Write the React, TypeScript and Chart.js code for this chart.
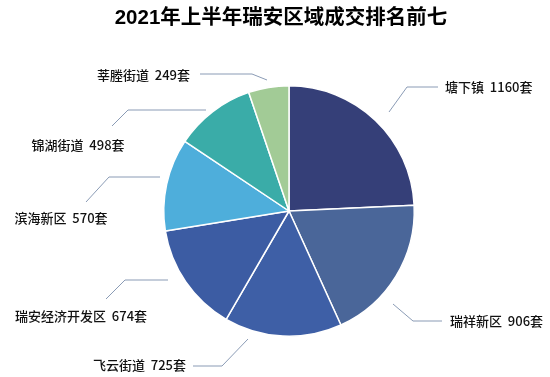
import React, { useEffect, useRef } from "react";
import { Chart, registerables } from "chart.js";

Chart.register(...registerables);

const TITLE = "2021年上半年瑞安区域成交排名前七";
const CATEGORIES = ["塘下镇", "瑞祥新区", "飞云街道", "瑞安经济开发区", "滨海新区", "锦湖街道", "莘塍街道"];
const VALUES = [1160, 906, 725, 674, 570, 498, 249];
const UNIT = "套";
const COLORS = ["#353f78", "#4a6699", "#3e5fa6", "#3c5ca3", "#4eaedb", "#3aaca8", "#a2cb96"];

// Leader-line layout, offsets relative to the pie centre (px)
const LEADERS = [
  { pts: [[100, -99], [118, -124], [149, -124]], text: [156, -124], align: "left" },
  { pts: [[104, 93], [124, 110], [153, 110]], text: [161, 110], align: "left" },
  { pts: [[-41, 128], [-67, 155], [-96, 155]], text: [-103, 154], align: "right" },
  { pts: [[-121, 69], [-164, 69], [-183, 88]], text: [-208, 105], align: "center" },
  { pts: [[-129, -34], [-180, -34], [-203, -9]], text: [-228, 7], align: "center" },
  { pts: [[-83, -101], [-161, -101], [-177, -85]], text: [-211, -66], align: "center" },
  { pts: [[-22, -131], [-37, -137], [-89, -137]], text: [-99, -136], align: "right" },
];

const FONT = '"Noto Sans CJK SC", "Noto Sans", sans-serif';
const TITLE_FONT = '"Liberation Sans", "Noto Sans CJK SC", sans-serif';

const labelPlugin = {
  id: "leaderLabels",
  afterDraw(chart: any) {
    const ctx = chart.ctx;
    const meta = chart.getDatasetMeta(0);
    ctx.save();
    // title
    ctx.fillStyle = "#000";
    ctx.font = `bold 20.5px ${TITLE_FONT}`;
    ctx.textAlign = "center";
    ctx.textBaseline = "middle";
    ctx.fillText(TITLE, 281, 18);

    meta.data.forEach((arc: any, i: number) => {
      const cx = arc.x;
      const cy = arc.y;
      const L = LEADERS[i];
      ctx.strokeStyle = "#8a9bb5";
      ctx.lineWidth = 1;
      ctx.beginPath();
      L.pts.forEach((p: number[], k: number) => {
        if (k === 0) ctx.moveTo(cx + p[0], cy + p[1]);
        else ctx.lineTo(cx + p[0], cy + p[1]);
      });
      ctx.stroke();
      ctx.fillStyle = "#111";
      ctx.font = `500 13px ${FONT}`;
      ctx.textAlign = L.align;
      ctx.textBaseline = "middle";
      ctx.fillText(`${CATEGORIES[i]}  ${VALUES[i]}${UNIT}`, cx + L.text[0], cy + L.text[1]);
    });
    ctx.restore();
  },
};

export default function App() {
  const ref = useRef<HTMLCanvasElement>(null);
  useEffect(() => {
    document.body.style.margin = "0";
    const chart = new Chart(ref.current!, {
      type: "pie",
      data: {
        labels: CATEGORIES,
        datasets: [
          {
            data: VALUES,
            backgroundColor: COLORS,
            borderColor: "#ffffff",
            borderWidth: 1.5,
          },
        ],
      },
      options: {
        animation: false,
        responsive: false,
        layout: { padding: { left: 163, right: 135, top: 85, bottom: 40 } },
        plugins: {
          legend: { display: false },
          tooltip: { enabled: false },
          title: { display: false },
        },
      },
      plugins: [labelPlugin],
    });
    return () => chart.destroy();
  }, []);
  return (
    <div style={{ width: 550, height: 377 }}>
      <canvas ref={ref} width={550} height={377} style={{ display: "block" }} />
    </div>
  );
}
